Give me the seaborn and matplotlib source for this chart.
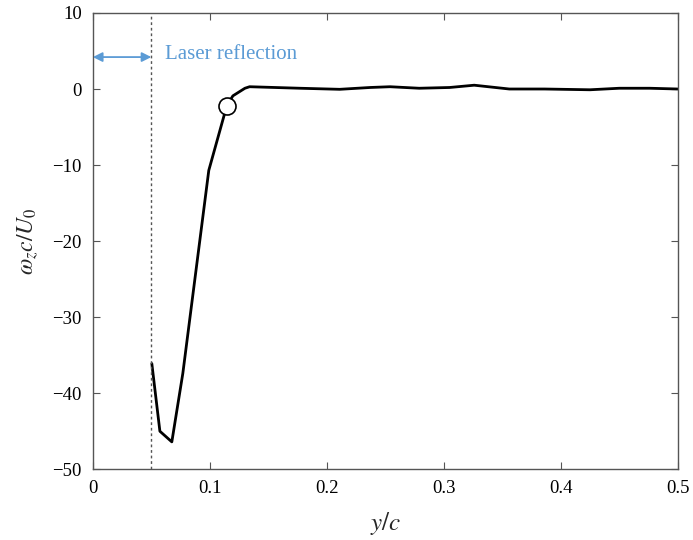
import matplotlib
matplotlib.use("Agg")
import matplotlib.pyplot as plt
import seaborn as sns
import pandas as pd

# data
y_over_c = [0.0504, 0.0573, 0.0675, 0.0769, 0.0991, 0.1145, 0.1197, 0.130,
            0.134, 0.177, 0.211, 0.237, 0.254, 0.279, 0.305, 0.326, 0.356,
            0.386, 0.425, 0.450, 0.476, 0.500]
omega = [-36.1, -45.0, -46.4, -37.4, -10.7, -2.2, -0.9, 0.1,
         0.3, 0.1, -0.04, 0.2, 0.3, 0.1, 0.2, 0.5, 0.0,
         0.0, -0.1, 0.1, 0.1, 0.0]
marker_x = [0.1145]
marker_y = [-2.2]
laser_x = 0.05
xticks = [0, 0.1, 0.2, 0.3, 0.4, 0.5]
xticklabels = ["0", "0.1", "0.2", "0.3", "0.4", "0.5"]
yticks = [-50, -40, -30, -20, -10, 0, 10]

sns.set_style("ticks")
plt.rcParams["font.family"] = ["Liberation Serif", "DejaVu Serif"]
plt.rcParams["mathtext.fontset"] = "stix"

fig = plt.figure(figsize=(6.93, 5.40), dpi=100)
ax = fig.add_axes([0.134, 0.131, 0.844, 0.845])

df = pd.DataFrame({"x": y_over_c, "y": omega})
sns.lineplot(data=df, x="x", y="y", sort=False, color="black", lw=2.0, ax=ax)
sns.scatterplot(x=marker_x, y=marker_y, s=150, facecolor="white",
                edgecolor="black", linewidth=1.2, zorder=5, ax=ax)

ax.axvline(laser_x, color="#555555", ls=(0, (2, 2)), lw=1.0)
ax.annotate("", xy=(0.0, 4.2), xytext=(laser_x, 4.2),
            arrowprops=dict(arrowstyle="<|-|>", color="#5b9bd5", lw=1.3,
                            mutation_scale=14, shrinkA=0, shrinkB=0))
ax.text(0.062, 4.5, "Laser reflection", color="#5b9bd5", fontsize=15,
        va="center", ha="left")

ax.set_xlim(0, 0.5)
ax.set_ylim(-50, 10)
ax.set_xticks(xticks)
ax.set_xticklabels(xticklabels)
ax.set_yticks(yticks)
ax.tick_params(direction="in", length=5, width=0.8, top=True, right=True,
               labelsize=13.5, colors="#555555", labelcolor="black", pad=8)
for s in ax.spines.values():
    s.set_color("#555555")
    s.set_linewidth(1.0)

ax.set_xlabel(r"$y/c$", fontsize=18, labelpad=9)
ax.set_ylabel(r"$\omega_z c/U_0$", fontsize=17, labelpad=8)

fig.savefig("out.png", dpi=100)
